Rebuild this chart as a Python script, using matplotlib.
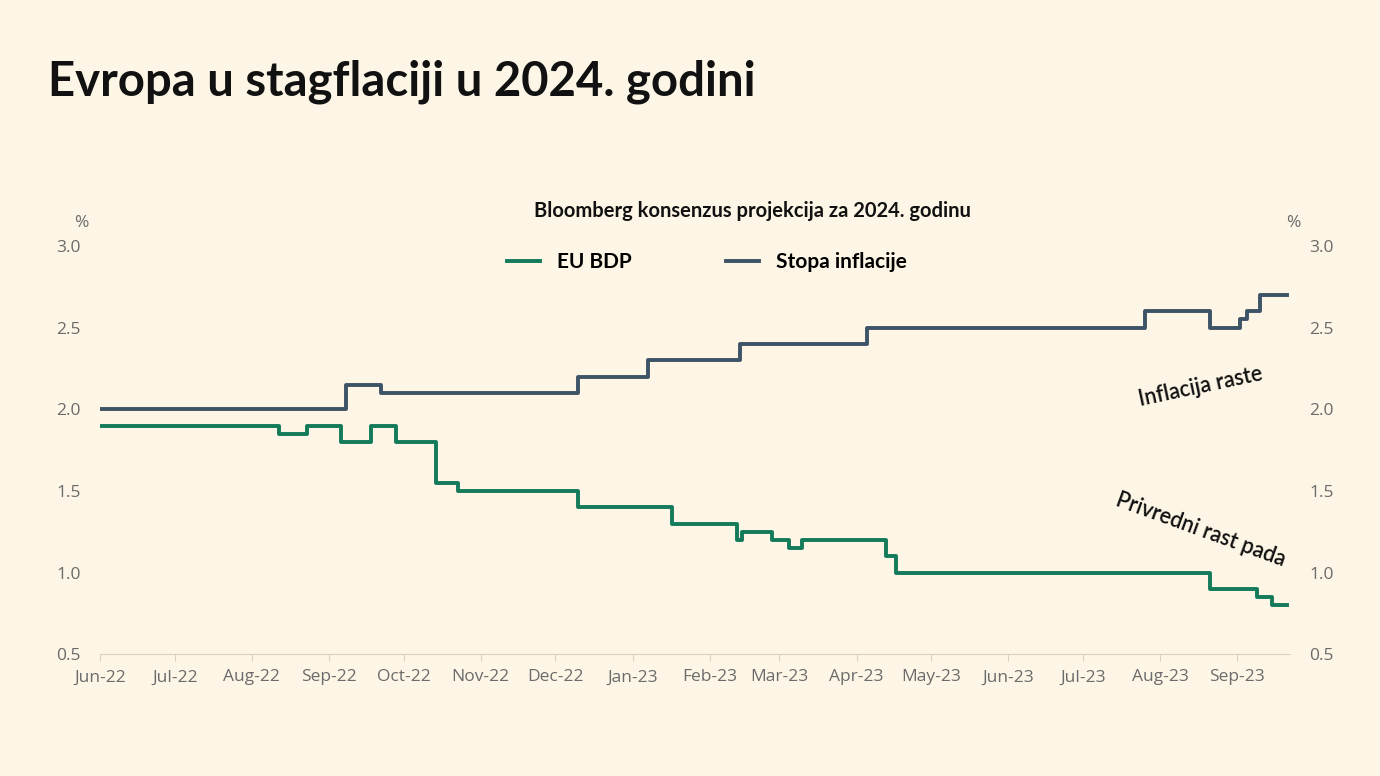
import pandas as pd
import matplotlib.pyplot as plt
import matplotlib.dates as mdates

# step changes: (date, value)
gdp_dates = ['2022-06-01', '2022-08-12', '2022-08-23', '2022-09-06', '2022-09-18', '2022-09-28',
             '2022-10-14', '2022-10-23', '2022-12-10', '2023-01-17', '2023-02-12', '2023-02-14',
             '2023-02-26', '2023-03-05', '2023-03-10', '2023-04-13', '2023-04-17', '2023-08-21',
             '2023-09-09', '2023-09-15', '2023-09-21']
gdp_vals = [1.9, 1.85, 1.9, 1.8, 1.9, 1.8, 1.55, 1.5, 1.4, 1.3, 1.2, 1.25, 1.2, 1.15, 1.2, 1.1,
            1.0, 0.9, 0.85, 0.8, 0.8]

inf_dates = ['2022-06-01', '2022-09-08', '2022-09-22', '2022-12-10', '2023-01-07', '2023-02-13',
             '2023-04-05', '2023-07-26', '2023-08-21', '2023-09-02', '2023-09-05', '2023-09-10',
             '2023-09-21']
inf_vals = [2.0, 2.15, 2.1, 2.2, 2.3, 2.4, 2.5, 2.6, 2.5, 2.55, 2.6, 2.7, 2.7]

green = '#137A5A'
slate = '#3D5366'
bg = '#FDF6E6'
grey = '#6b6b6b'

fig = plt.figure(figsize=(13.8, 7.76), dpi=100, facecolor=bg)
ax = fig.add_axes([0.0725, 0.157, 0.862, 0.526], facecolor=bg)

ax.step(pd.to_datetime(gdp_dates), gdp_vals, where='post', color=green, lw=2.8, label='EU BDP')
ax.step(pd.to_datetime(inf_dates), inf_vals, where='post', color=slate, lw=2.8, label='Stopa inflacije')

ax.set_xlim(pd.Timestamp('2022-06-01'), pd.Timestamp('2023-09-22'))
ax.set_ylim(0.5, 3.0)
ax.set_yticks([0.5, 1.0, 1.5, 2.0, 2.5, 3.0])
ax.yaxis.set_major_formatter(plt.FormatStrFormatter('%.1f'))
ax.xaxis.set_major_locator(mdates.MonthLocator())
ax.xaxis.set_major_formatter(mdates.DateFormatter('%b-%y'))
for s in ['top', 'left', 'right']:
    ax.spines[s].set_visible(False)
ax.spines['bottom'].set_color('#d9d2c3')
ax.tick_params(axis='x', colors=grey, labelsize=12.5, length=5, color='#d9d2c3', pad=6)
ax.tick_params(axis='y', colors=grey, labelsize=12.5, length=0, pad=14,
               labelright=True, right=False)
for lbl in ax.get_xticklabels() + ax.get_yticklabels():
    lbl.set_fontfamily('Open Sans')

fig.text(0.054, 0.708, '%', color=grey, fontsize=12.5, family='Open Sans')
fig.text(0.932, 0.708, '%', color=grey, fontsize=12.5, family='Open Sans')

fig.text(0.035, 0.895, 'Evropa u stagflaciji u 2024. godini', fontsize=34, fontweight='bold',
         family='Lato', color='#111111', va='center')
fig.text(0.545, 0.728, 'Bloomberg konsenzus projekcija za 2024. godinu', fontsize=14.5,
         fontweight='bold', family='Lato', color='#111111', ha='center', va='center')

leg = ax.legend(loc='upper center', bbox_to_anchor=(0.51, 1.03), ncol=2, frameon=False,
                handlelength=1.6, columnspacing=4.5, prop={'family': 'Lato', 'weight': 'bold', 'size': 15})

ax.text(0.925, 0.655, 'Inflacija raste', transform=ax.transAxes, rotation=12, fontsize=15.5,
        family='Lato', fontweight='semibold', ha='center', va='center', color='#111111')
ax.text(0.925, 0.305, 'Privredni rast pada', transform=ax.transAxes, rotation=-20, fontsize=15.5,
        family='Lato', fontweight='semibold', ha='center', va='center', color='#111111')

fig.savefig('out.png', dpi=100, facecolor=bg)
